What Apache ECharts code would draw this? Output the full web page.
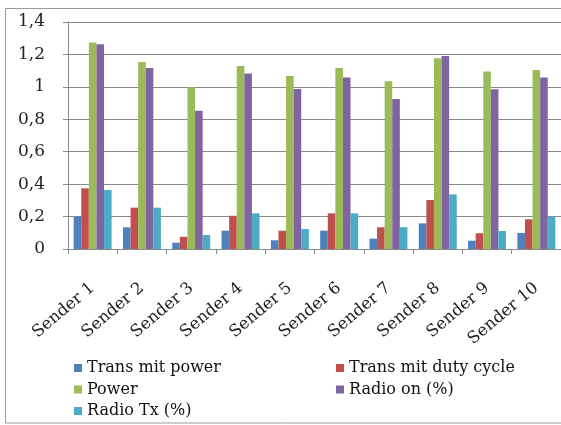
<!DOCTYPE html>
<html>
<head>
<meta charset="utf-8">
<script src="https://cdn.jsdelivr.net/npm/echarts@6/dist/echarts.min.js"></script>
<style>
  html, body { margin: 0; padding: 0; background: #fff; }
  #chart { width: 561px; height: 425px; }
</style>
</head>
<body>
<div id="chart"></div>
<script>
// Categories and per-sender values
const senders = ['Sender 1', 'Sender 2', 'Sender 3', 'Sender 4', 'Sender 5',
                 'Sender 6', 'Sender 7', 'Sender 8', 'Sender 9', 'Sender 10'];

const transmitPower     = [0.20, 0.134, 0.039, 0.113, 0.054, 0.113, 0.064, 0.158, 0.051, 0.099];
const transmitDutyCycle = [0.374, 0.255, 0.075, 0.205, 0.113, 0.22, 0.134, 0.302, 0.097, 0.183];
const power             = [1.273, 1.154, 0.998, 1.129, 1.067, 1.117, 1.034, 1.176, 1.094, 1.104];
const radioOn           = [1.263, 1.117, 0.853, 1.082, 0.987, 1.057, 0.925, 1.19, 0.985, 1.057];
const radioTx           = [0.364, 0.255, 0.086, 0.22, 0.123, 0.22, 0.134, 0.337, 0.111, 0.199];

const seriesNames = ['Trans mit power', 'Trans mit duty cycle', 'Power', 'Radio on (%)', 'Radio Tx (%)'];
const seriesData  = [transmitPower, transmitDutyCycle, power, radioOn, radioTx];
const colors      = ['#4F81BD', '#C0504D', '#9BBB59', '#8064A2', '#4BACC6'];

const FONT = 'DejaVu Serif';

const chart = echarts.init(document.getElementById('chart'), null, { renderer: 'canvas' });

// Legend text goes through a rich style so the serif face is applied explicitly
const serifRich = { fontFamily: FONT, fontSize: 16, color: '#111', lineHeight: 18 };
const legendText = {
  fontFamily: FONT, fontSize: 16, color: '#111', lineHeight: 18,
  rich: { s: serifRich }
};
const legendBase = {
  orient: 'vertical', top: 359, height: 70, padding: 0,
  itemWidth: 8, itemHeight: 8, itemGap: 3.5,
  icon: 'rect', textStyle: legendText,
  formatter: name => '{s|' + name + '}'
};

chart.setOption({
  animation: false,
  color: colors,
  textStyle: { fontFamily: FONT },
  graphic: [{
    type: 'rect',
    shape: { x: 5.5, y: 8.5, width: 600, height: 414.5 },
    style: { fill: 'none', stroke: '#9a9a9a', lineWidth: 1 },
    silent: true
  }],
  grid: { left: 68, right: 0, top: 22, bottom: 176 },
  legend: [
    Object.assign({}, legendBase, {
      left: 74, data: [seriesNames[0], seriesNames[2], seriesNames[4]]
    }),
    Object.assign({}, legendBase, {
      left: 336, data: [seriesNames[1], seriesNames[3]]
    })
  ],
  xAxis: {
    type: 'category',
    data: senders,
    boundaryGap: true,
    axisLine: { lineStyle: { color: '#8a8a8a', width: 1 } },
    axisTick: { show: true, length: 5, lineStyle: { color: '#8a8a8a' } },
    axisLabel: {
      rotate: 40, margin: 37, interval: 0,
      fontFamily: FONT, fontSize: 16.5, color: '#222'
    }
  },
  yAxis: {
    type: 'value',
    min: 0, max: 1.4, interval: 0.2,
    axisLine: { show: true, lineStyle: { color: '#8a8a8a', width: 1 } },
    axisTick: { show: true, length: 5, lineStyle: { color: '#8a8a8a' } },
    splitLine: { lineStyle: { color: '#8a8a8a', width: 1 } },
    axisLabel: {
      margin: 23,
      fontFamily: FONT, fontSize: 17, color: '#222',
      formatter: v => String(Math.round(v * 10) / 10).replace('.', ',')
    }
  },
  series: seriesNames.map((name, i) => ({
    name,
    type: 'bar',
    data: seriesData[i],
    barGap: '0%',
    barCategoryGap: '23%',
    itemStyle: { color: colors[i] }
  }))
});
</script>
</body>
</html>
